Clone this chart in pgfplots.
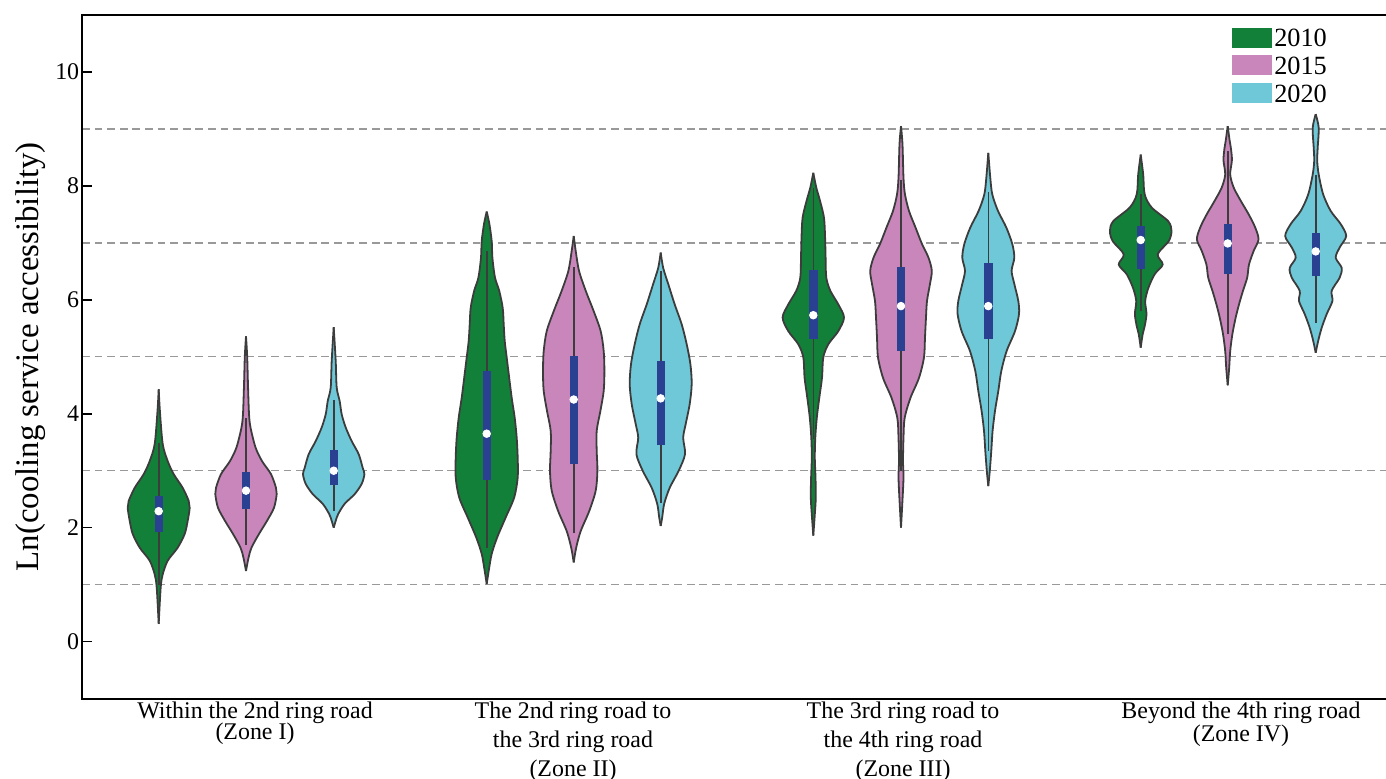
\documentclass[border=0pt]{standalone}
\usepackage{pgfplots}
\pgfplotsset{compat=1.18}
\usepackage{pgfplotstable}
\usepgfplotslibrary{fillbetween}
\usepackage{fontspec}
\setmainfont{Liberation Serif}

\definecolor{cgreen}{HTML}{13803A}
\definecolor{cpink}{HTML}{C886BB}
\definecolor{ccyan}{HTML}{6EC8D7}
\definecolor{cbox}{HTML}{2A4192}
\definecolor{cline}{HTML}{3C3C3C}

% Zone I
\pgfplotstableread{
y w
0.31 0
0.95 2
1.18 4
1.42 9
1.65 19
1.89 26
2.12 29
2.35 31
2.47 30
2.70 24
2.94 15
3.17 9
3.47 4
4.05 1.2
4.43 0
}\vA
\pgfplotstableread{
y w
1.24 0
1.47 2.5
1.65 5.5
1.89 13
2.12 21
2.35 28
2.59 30.7
2.70 30
2.94 25
3.17 16
3.41 9.5
3.76 4.5
4.00 3
4.50 2
5.00 1.2
5.36 0
}\vB
\pgfplotstableread{
y w
2.00 0
2.12 2
2.24 4.5
2.42 11
2.59 21
2.77 28
2.94 30.7
3.05 29
3.29 25
3.52 18
3.76 12
3.99 8
4.22 6
4.46 3
4.93 2
5.52 0
}\vC
% Zone II
\pgfplotstableread{
y w
1.01 0
1.24 2
1.54 5
1.83 10.5
2.18 19
2.53 27.5
2.88 31
3.23 31
3.58 30
3.93 28
4.28 25
4.63 22.5
4.99 20
5.28 18
5.57 17
5.86 16
6.16 12.5
6.39 8.3
6.74 5.7
7.03 5
7.33 2.7
7.55 0
}\vD
\pgfplotstableread{
y w
1.39 0
1.65 2.5
1.94 7
2.29 15.5
2.65 22
3.00 23.7
3.35 23
3.70 23
4.05 26.7
4.40 30
4.75 30.7
5.10 30
5.45 27
5.80 20
6.16 12
6.51 5.3
6.86 2
7.12 0
}\vE
\pgfplotstableread{
y w
2.03 0
2.18 1.5
2.42 3.5
2.70 9
3.00 18
3.29 24.3
3.58 22.5
3.82 25
4.17 29
4.52 31
4.87 29.7
5.22 26
5.57 21
5.92 14
6.28 7.5
6.56 2.5
6.83 0
}\vF
% Zone III
\pgfplotstableread{
y w
1.86 0
2.18 1.3
2.53 2.5
2.88 2.2
3.23 1.5
3.58 2
3.93 3.5
4.28 6
4.63 8.7
4.99 10
5.22 15
5.45 25
5.69 30.7
5.92 25
6.16 17
6.39 13
6.74 12.3
7.09 11.8
7.44 10.7
7.74 6.7
7.97 3
8.23 0
}\vG
\pgfplotstableread{
y w
2.00 0
2.42 1.3
2.88 2.5
3.17 2
3.58 2.5
3.93 3.7
4.28 9.5
4.63 18
4.99 23
5.34 24
5.69 25
5.98 26
6.28 29
6.51 30.8
6.74 27.5
6.98 21
7.27 14.5
7.56 8
7.85 4
8.14 2.5
8.73 1.5
9.05 0
}\vH
\pgfplotstableread{
y w
2.73 0
3.00 1.5
3.35 3
3.70 4.3
4.05 6.7
4.40 10
4.75 13
5.10 18.3
5.45 26.7
5.75 30.7
5.98 30
6.28 26
6.51 23.3
6.74 26
6.98 24
7.27 18
7.56 9.7
7.85 4
8.14 2
8.58 0
}\vI
% Zone IV
\pgfplotstableread{
y w
5.16 0
5.40 2
5.54 4
5.75 5.8
5.98 4.5
6.21 7.7
6.45 14
6.62 22
6.80 17
7.03 28
7.21 30.8
7.38 27.5
7.62 11
7.85 4
8.20 2.5
8.55 0
}\vJ
\pgfplotstableread{
y w
4.50 0
4.81 1.5
5.10 2.5
5.40 4.7
5.69 8
5.92 11.3
6.16 15.3
6.39 19.5
6.62 21.3
6.86 26
7.06 30.8
7.27 27.5
7.50 21
7.74 13
7.97 6
8.20 2.5
8.45 4.2
8.65 3.3
8.79 2
9.05 0
}\vK
\pgfplotstableread{
y w
5.07 0
5.28 2.5
5.51 6
5.75 11
5.98 16.7
6.16 16
6.39 24
6.56 26
6.74 20
6.92 24
7.12 30.5
7.33 25
7.56 15
7.85 7.5
8.20 3
8.44 1.5
8.67 2
9.02 3
9.26 0
}\vL

% #1 name, #2 table, #3 centre, #4 colour, #5 whisker low, #6 q1, #7 median, #8 q3, #9 whisker high
\newcommand{\violin}[9]{%
 \addplot[draw=none, smooth, name path=R#1, forget plot] table[x expr=#3+\thisrow{w}, y=y] {#2};
 \addplot[draw=none, smooth, name path=L#1, forget plot] table[x expr=#3-\thisrow{w}, y=y] {#2};
 \addplot[fill=#4, draw=none, forget plot] fill between[of=R#1 and L#1];
 \addplot[cline, line width=0.9bp, smooth, forget plot] table[x expr=#3+\thisrow{w}, y=y] {#2};
 \addplot[cline, line width=0.9bp, smooth, forget plot] table[x expr=#3-\thisrow{w}, y=y] {#2};
 \addplot[cline, line width=0.8bp, forget plot] coordinates {(#3,#5) (#3,#9)};
 \addplot[cbox, line width=4.2bp, forget plot] coordinates {(#3,#6) (#3,#8)};
 \addplot[only marks, mark=*, mark size=1.9bp, mark options={fill=white, draw=white}, forget plot] coordinates {(#3,#7)};
}

\begin{document}
\begin{tikzpicture}
\begin{axis}[
  scale only axis, width=652bp, height=341.8bp,
  xmin=82, xmax=1386, ymin=-1, ymax=11,
  clip=false,
  axis line style={draw=none},
  ytick={0,2,4,6,8,10}, ytick pos=left, tick align=inside,
  major tick length=5bp,
  tick style={black, line width=0.8bp},
  /pgf/number format/assume math mode=true,
  yticklabel style={font=\fontsize{12}{12}\selectfont, inner xsep=1.2bp},
  xtick={255,573,903,1241},
  xticklabels={{Within the 2nd ring road\\[-4bp](Zone I)},
               {The 2nd ring road to\\the 3rd ring road\\(Zone II)},
               {The 3rd ring road to\\the 4th ring road\\(Zone III)},
               {Beyond the 4th ring road\\[-3bp](Zone IV)}},
  major x tick style={draw=none},
  xticklabel style={align=center, font=\fontsize{12}{14.5}\selectfont, inner ysep=1.5bp, anchor=north},
  extra y ticks={1,3,5,7,9}, extra y tick labels={},
  extra y tick style={grid=major, major tick length=0pt},
  major grid style={dash pattern=on 3.9bp off 2.4bp, color=black!40, line width=0.7bp},
  ylabel={Ln(cooling service accessibility)},
  ylabel style={font=\fontsize{16.5}{18}\selectfont},
  legend style={draw=none, fill=none, at={(0.8815,0.983)}, anchor=north west,
    font=\fontsize{13.2}{13.2}\selectfont, row sep=3.4bp, inner sep=0pt,
    nodes={inner xsep=1.3bp, inner ysep=0.8bp, text height=8.9bp, text depth=0pt}},
  legend cell align=left,
  legend image code/.code={\fill[#1] (0bp,-4.75bp) rectangle (19.5bp,4.75bp);},
]
\addlegendimage{cgreen}
\addlegendentry{2010}
\addlegendimage{cpink}
\addlegendentry{2015}
\addlegendimage{ccyan}
\addlegendentry{2020}

\violin{a}{\vA}{158.7}{cgreen}{1.0}{1.93}{2.29}{2.56}{3.49}
\violin{b}{\vB}{246}{cpink}{1.7}{2.32}{2.65}{2.97}{3.93}
\violin{c}{\vC}{333.7}{ccyan}{2.29}{2.75}{3.0}{3.36}{4.24}
\violin{d}{\vD}{486.7}{cgreen}{1.65}{2.83}{3.65}{4.75}{6.86}
\violin{e}{\vE}{573.7}{cpink}{1.91}{3.11}{4.25}{5.02}{6.58}
\violin{f}{\vF}{660.7}{ccyan}{2.44}{3.45}{4.27}{4.93}{6.51}
\violin{g}{\vG}{813.3}{cgreen}{3.55}{5.32}{5.73}{6.52}{7.97}
\violin{h}{\vH}{901}{cpink}{3.0}{5.11}{5.89}{6.57}{8.1}
\violin{i}{\vI}{988.3}{ccyan}{3.35}{5.32}{5.89}{6.65}{7.9}
\violin{j}{\vJ}{1140.7}{cgreen}{5.8}{6.54}{7.05}{7.30}{7.85}
\violin{k}{\vK}{1227.7}{cpink}{5.4}{6.45}{6.99}{7.33}{8.61}
\violin{l}{\vL}{1315.7}{ccyan}{5.6}{6.42}{6.85}{7.17}{8.2}

\draw[black, line width=1bp] (rel axis cs:1,1) -- (rel axis cs:0,1) -- (rel axis cs:0,0) -- (rel axis cs:1,0);
\coordinate (BL) at (rel axis cs:0,0);
\coordinate (TR) at (rel axis cs:1,1);
\end{axis}
\pgfresetboundingbox
\path ([xshift=-41bp,yshift=-40bp]BL) rectangle ([yshift=7.5bp]TR);
\end{tikzpicture}
\end{document}
